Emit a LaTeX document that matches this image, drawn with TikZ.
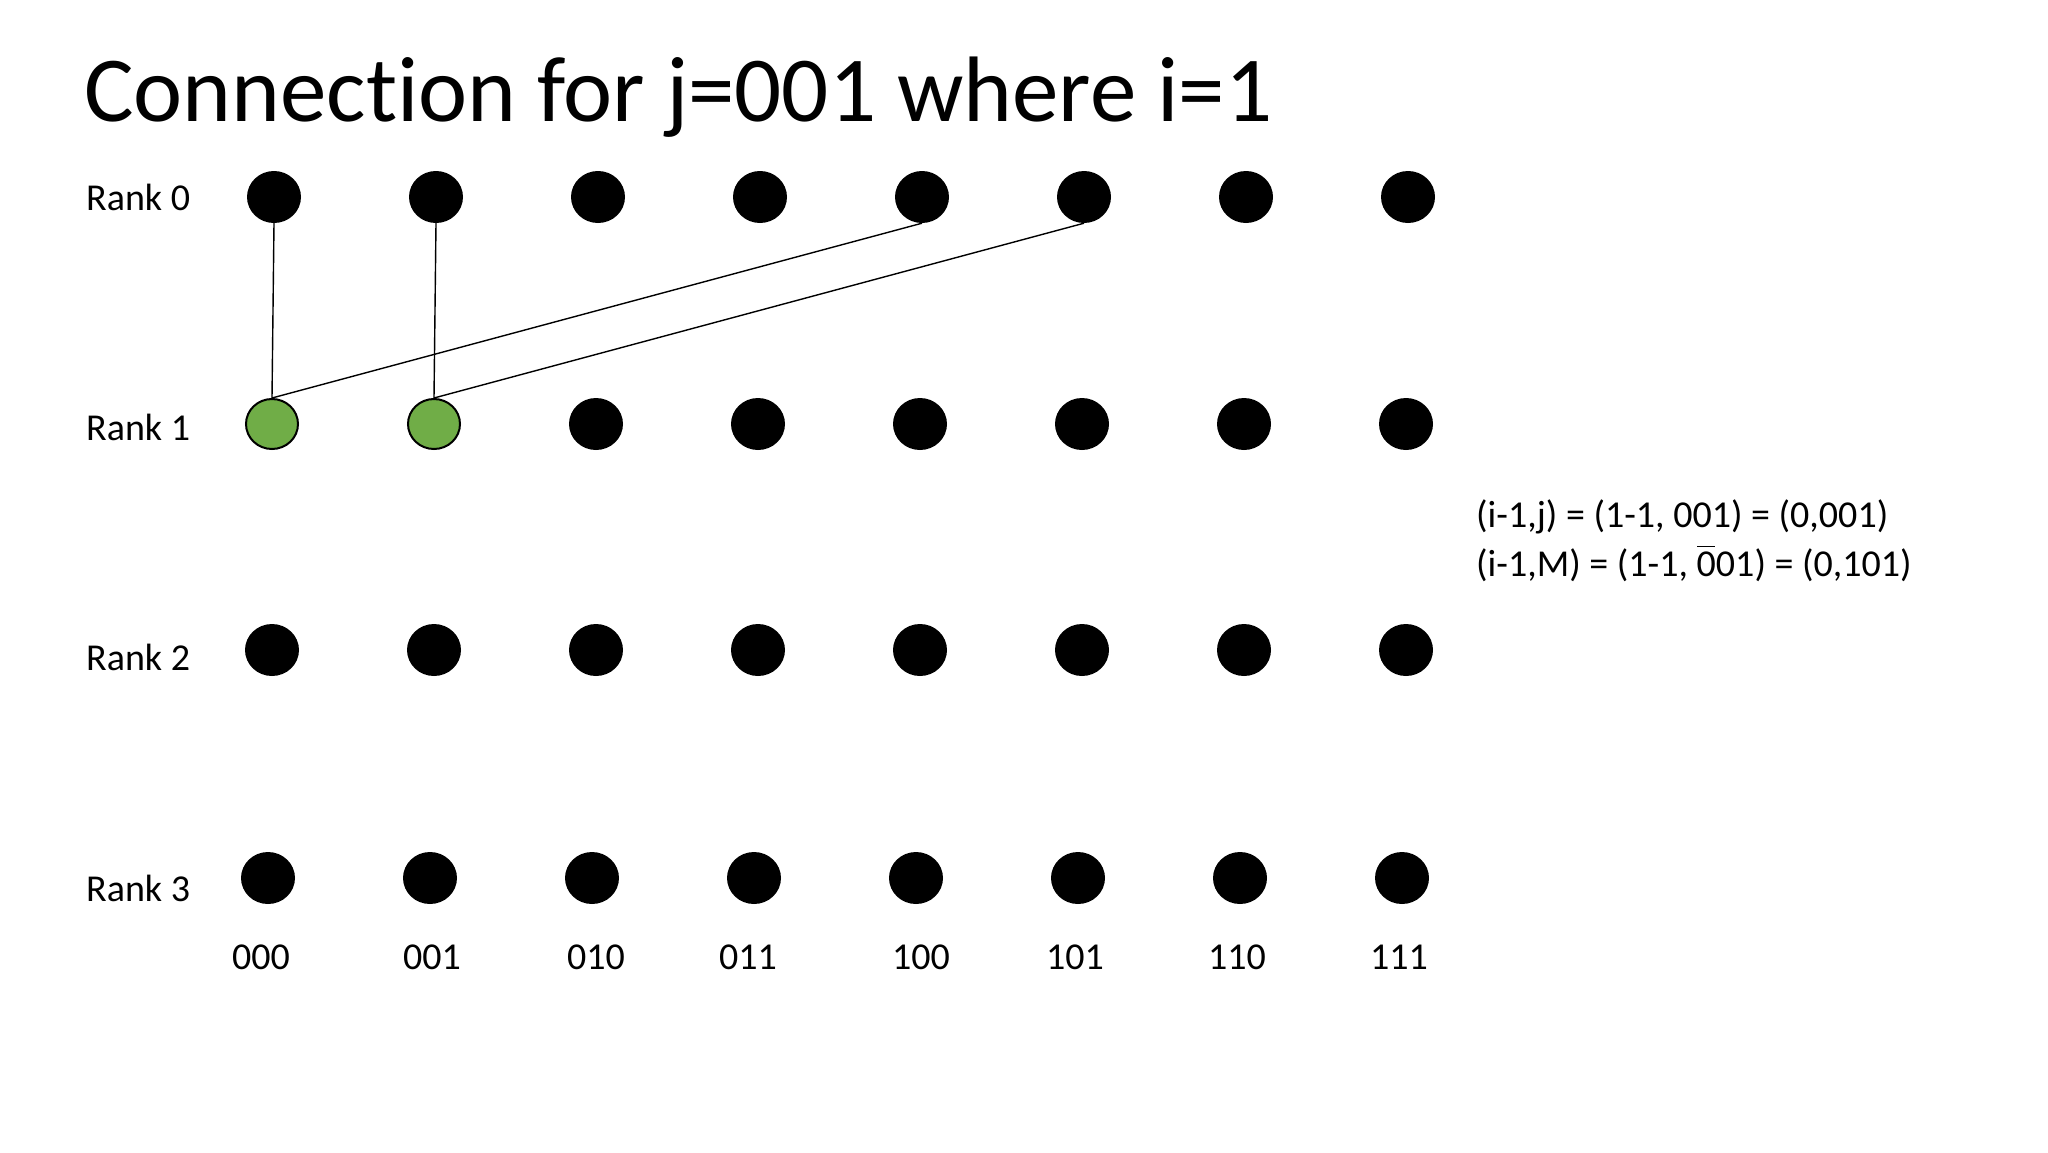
\documentclass[tikz,border=0pt]{standalone}
\usepackage{fontspec}
\setmainfont{Carlito}[Ligatures=NoCommon]
\usetikzlibrary{shapes.geometric}
\newcommand{\barzero}{\makebox[0pt][l]{\hspace{0.02em}\raisebox{0.78em}{\rule{0.46em}{1.6pt}}}0}
\begin{document}
\begin{tikzpicture}[x=1pt,y=-1pt,
  dot/.style={ellipse,fill=black,minimum width=54pt,minimum height=52pt,inner sep=0pt},
  gdot/.style={ellipse,fill={rgb,255:red,112;green,173;blue,71},draw=black,line width=2pt,minimum width=52pt,minimum height=50pt,inner sep=0pt},
  link/.style={draw=black,line width=1.4pt},
  lbl/.style={font=\fontsize{38}{46}\selectfont,inner sep=0pt},
  title/.style={font=\fontsize{93}{110}\selectfont,inner sep=0pt}]
\useasboundingbox[fill=white] (0,0) rectangle (2048,1152);
\node[title,anchor=base west] (title) at (84,121) {Connection for j=001 where i=1};
% rank labels
\node[lbl,anchor=west] (r0) at (86,197) {Rank 0};
\node[lbl,anchor=west] (r1) at (86,427) {Rank 1};
\node[lbl,anchor=west] (r2) at (86,657) {Rank 2};
\node[lbl,anchor=west] (r3) at (86,888) {Rank 3};
% rows of nodes
\foreach \k in {0,...,7} {\node[dot] (n0\k) at (274+162*\k,197) {};}
\node[gdot] (n10) at (272,424) {};
\node[gdot] (n11) at (434,424) {};
\foreach \k in {2,...,7} {\node[dot] (n1\k) at (272+162*\k,424) {};}
\foreach \k in {0,...,7} {\node[dot] (n2\k) at (272+162*\k,650) {};}
\foreach \k in {0,...,7} {\node[dot] (n3\k) at (268+162*\k,878) {};}
% bit labels
\foreach \b/\x [count=\i from 0] in {000/261,001/432,010/596,011/748,100/921,101/1075,110/1237,111/1399} {
  \node[lbl] (b\i) at (\x,957) {\b};
}
% connections
\draw[link] (n00.south) -- (n10.north);
\draw[link] (n01.south) -- (n11.north);
\draw[link] (n04.south) -- (n10.north);
\draw[link] (n05.south) -- (n11.north);
% formulas
\node[lbl,anchor=west] (f1) at (1476,517) {(i-1,j) = (1-1, 001) = (0,001)};
\node[lbl,anchor=west] (f2) at (1476,564) {(i-1,M) = (1-1, \barzero01) = (0,101)};
\end{tikzpicture}
\end{document}
